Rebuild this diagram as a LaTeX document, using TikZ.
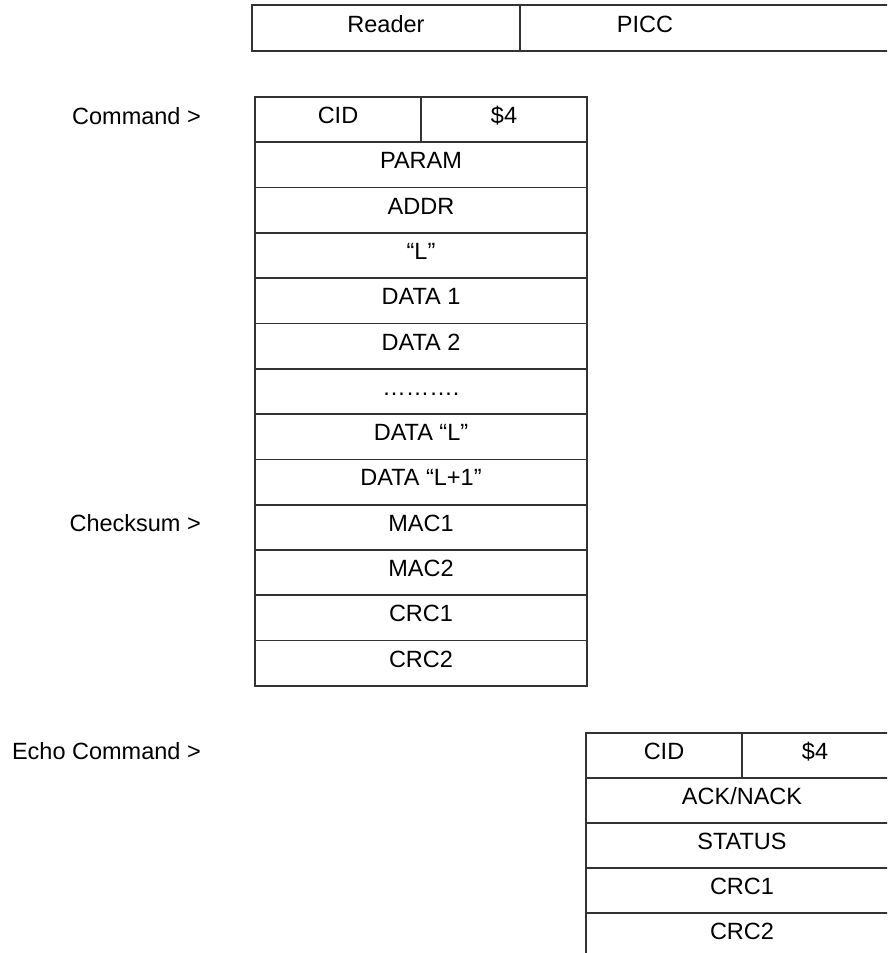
\documentclass[tikz,border=0pt]{standalone}
\usepackage{fontspec}
\setmainfont{Liberation Sans}
\begin{document}
\begin{tikzpicture}[x=1pt,y=-1pt,
  grid/.style={line width=1.7pt, draw=black!80, line cap=rect},
  txt/.style={anchor=base, inner sep=0pt, font=\fontsize{23.5}{28}\selectfont},
  lbl/.style={anchor=base east, inner sep=0pt, font=\fontsize{23.5}{28}\selectfont}]
\useasboundingbox (0,0) rectangle (887,953);
\clip (0,0) rectangle (887,953);
% ---- header table
\draw[grid] (900,5) -| (252,51) -- (900,51);
\draw[grid] (520,5) -- (520,51);
\node[txt] (reader) at (386,32) {Reader};
\node[txt] (picc) at (645,32) {PICC};
% ---- command table
\def\rh{45.3}
\foreach \i in {0,...,13} {\draw[grid] (255,97+\i*\rh) -- (587,97+\i*\rh);}
\draw[grid] (255,97) -- (255,97+13*\rh);
\draw[grid] (587,97) -- (587,97+13*\rh);
\draw[grid] (421,97) -- (421,97+\rh);
\node[txt] (ccid) at (338,123.5) {CID};
\node[txt] (cfour) at (504,123.5) {\$4};
\foreach \t [count=\i from 1] in {PARAM,ADDR,“L”,DATA 1,DATA 2,……….,DATA “L”,DATA “L+1”,MAC1,MAC2,CRC1,CRC2}
  {\node[txt] (crow\i) at (421,123.5+\i*\rh) {\t};}
\node[lbl] (lcmd) at (201,124) {Command >};
\node[lbl] (lchk) at (201,124+9*\rh) {Checksum >};
% ---- echo table
\def\eh{45}
\foreach \i in {0,...,4} {\draw[grid] (586,733+\i*\eh) -- (900,733+\i*\eh);}
\draw[grid] (586,733) -- (586,960);
\draw[grid] (742,733) -- (742,733+\eh);
\node[txt] (ecid) at (664,759.5) {CID};
\node[txt] (efour) at (815,759.5) {\$4};
\foreach \t [count=\i from 1] in {ACK/NACK,STATUS,CRC1,CRC2}
  {\node[txt] (erow\i) at (742,759.5+\i*\eh) {\t};}
\node[lbl] (lecho) at (201,759.5) {Echo Command >};
\end{tikzpicture}
\end{document}
